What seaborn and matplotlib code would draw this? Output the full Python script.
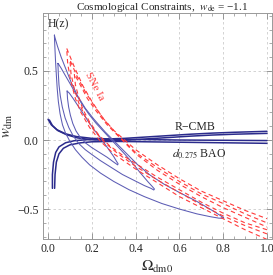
import numpy as np
import pandas as pd
import seaborn as sns
import matplotlib
matplotlib.use("Agg")
import matplotlib.pyplot as plt
from matplotlib.ticker import MultipleLocator

# H(z) contours (closed): (Omega_dm0, w_dm)
hz_outer = [(0.029, 0.76), (0.031, 0.68), (0.034, 0.58), (0.038, 0.47), (0.042, 0.37), (0.047, 0.28),
            (0.055, 0.19), (0.066, 0.11), (0.08, 0.05), (0.1, -0.01), (0.125, -0.07), (0.155, -0.125),
            (0.19, -0.18), (0.24, -0.24), (0.3, -0.3), (0.37, -0.36), (0.44, -0.41), (0.52, -0.46),
            (0.6, -0.5), (0.68, -0.535), (0.74, -0.555), (0.78, -0.566), (0.80, -0.567), (0.802, -0.563),
            (0.79, -0.55), (0.75, -0.51), (0.68, -0.445), (0.6, -0.38), (0.53, -0.32), (0.466, -0.254),
            (0.41, -0.18), (0.36, -0.1), (0.31, -0.02), (0.26, 0.06), (0.21, 0.15), (0.17, 0.23),
            (0.135, 0.32), (0.105, 0.42), (0.08, 0.52), (0.06, 0.6), (0.043, 0.68), (0.032, 0.74),
            (0.029, 0.76)]
hz_middle = [(0.045, 0.555), (0.047, 0.48), (0.05, 0.4), (0.056, 0.32), (0.065, 0.24), (0.078, 0.16),
             (0.095, 0.09), (0.115, 0.03), (0.14, -0.025), (0.17, -0.07), (0.2, -0.105), (0.24, -0.15),
             (0.29, -0.2), (0.34, -0.25), (0.39, -0.29), (0.44, -0.33), (0.47, -0.35), (0.483, -0.362),
             (0.486, -0.355), (0.478, -0.34), (0.455, -0.3), (0.42, -0.235), (0.39, -0.175),
             (0.355, -0.11), (0.32, -0.05), (0.29, 0.0), (0.255, 0.06), (0.22, 0.12), (0.185, 0.19),
             (0.155, 0.26), (0.125, 0.34), (0.1, 0.41), (0.078, 0.47), (0.06, 0.52), (0.048, 0.55),
             (0.045, 0.555)]
hz_inner = [(0.087, 0.355), (0.089, 0.3), (0.094, 0.24), (0.102, 0.18), (0.113, 0.12), (0.128, 0.065),
            (0.147, 0.02), (0.17, -0.02), (0.2, -0.055), (0.235, -0.09), (0.27, -0.125), (0.3, -0.16),
            (0.318, -0.18), (0.32, -0.172), (0.313, -0.155), (0.3, -0.12), (0.28, -0.075),
            (0.26, -0.03), (0.24, 0.015), (0.215, 0.065), (0.19, 0.12), (0.165, 0.18), (0.14, 0.24),
            (0.115, 0.3), (0.097, 0.34), (0.087, 0.355)]

# SNe Ia contours (open towards large Omega)
sne_outer = [(1.0, -0.72), (0.9, -0.65), (0.8, -0.57), (0.7, -0.49), (0.6, -0.41), (0.5, -0.31),
             (0.4, -0.21), (0.3, -0.1), (0.24, -0.01), (0.19, 0.09), (0.15, 0.2), (0.125, 0.3),
             (0.105, 0.42), (0.09, 0.55), (0.085, 0.665), (0.12, 0.53), (0.16, 0.39), (0.2, 0.28),
             (0.25, 0.16), (0.3, 0.07), (0.4, -0.07), (0.5, -0.18), (0.6, -0.28), (0.7, -0.37),
             (0.8, -0.44), (0.9, -0.51), (1.0, -0.57)]
sne_middle = [(1.0, -0.68), (0.9, -0.62), (0.8, -0.55), (0.7, -0.47), (0.6, -0.38), (0.5, -0.29),
              (0.4, -0.19), (0.32, -0.1), (0.26, -0.02), (0.21, 0.07), (0.17, 0.17), (0.14, 0.27),
              (0.12, 0.37), (0.105, 0.48), (0.1, 0.58), (0.13, 0.47), (0.17, 0.35), (0.21, 0.25),
              (0.26, 0.14), (0.31, 0.05), (0.4, -0.09), (0.5, -0.2), (0.6, -0.3), (0.7, -0.39),
              (0.8, -0.46), (0.9, -0.535), (1.0, -0.6)]
sne_inner = [(1.0, -0.65), (0.9, -0.6), (0.8, -0.53), (0.7, -0.45), (0.6, -0.36), (0.5, -0.27),
             (0.4, -0.17), (0.34, -0.11), (0.28, -0.04), (0.23, 0.04), (0.19, 0.13), (0.16, 0.22),
             (0.14, 0.31), (0.125, 0.4), (0.12, 0.48), (0.15, 0.39), (0.18, 0.3), (0.22, 0.21),
             (0.27, 0.11), (0.32, 0.03), (0.4, -0.1), (0.5, -0.22), (0.6, -0.32), (0.7, -0.41),
             (0.8, -0.49), (0.9, -0.56), (1.0, -0.63)]

# R-CMB band
rcmb_1 = [(0.0, 0.15), (0.015, 0.11), (0.04, 0.075), (0.08, 0.045), (0.13, 0.025), (0.2, 0.012),
          (0.28, 0.008), (0.35, 0.012), (0.45, 0.022), (0.55, 0.032), (0.65, 0.042), (0.75, 0.05),
          (0.85, 0.056), (1.0, 0.063)]
rcmb_2 = [(0.006, 0.145), (0.02, 0.105), (0.045, 0.068), (0.085, 0.038), (0.135, 0.015), (0.2, 0.002),
          (0.28, -0.004), (0.35, -0.002), (0.45, 0.008), (0.55, 0.018), (0.65, 0.028), (0.75, 0.036),
          (0.85, 0.042), (1.0, 0.048)]

# d_0.275 BAO band
bao_1 = [(0.02, -0.35), (0.02, -0.25), (0.025, -0.16), (0.035, -0.09), (0.05, -0.05), (0.08, -0.02),
         (0.12, -0.005), (0.2, 0.005), (0.3, 0.006), (0.4, 0.004), (0.5, 0.002), (0.6, 0.0),
         (0.7, -0.001), (0.8, -0.002), (0.9, -0.003), (1.0, -0.004)]
bao_2 = [(0.03, -0.35), (0.032, -0.25), (0.038, -0.16), (0.05, -0.1), (0.07, -0.06), (0.1, -0.035),
         (0.15, -0.02), (0.2, -0.013), (0.3, -0.01), (0.4, -0.012), (0.5, -0.014), (0.6, -0.016),
         (0.7, -0.018), (0.8, -0.02), (0.9, -0.022), (1.0, -0.024)]

sns.set_style("ticks")
plt.rcParams['font.family'] = ['Liberation Serif', 'DejaVu Serif']
plt.rcParams['mathtext.fontset'] = 'stix'

fig = plt.figure(figsize=(2.73, 2.75), dpi=100)
ax = fig.add_axes([43 / 273, 1 - 239 / 275, 229 / 273, 226 / 275])

def draw(pts, color, lw, ls='-'):
    df = pd.DataFrame(pts, columns=['om', 'w'])
    sns.lineplot(data=df, x='om', y='w', sort=False, estimator=None, color=color,
                 lw=lw, ls=ls, ax=ax)

for c in [rcmb_1, rcmb_2, bao_1, bao_2]:
    draw(c, '#2b2b8c', 1.1)
for c in [hz_outer, hz_middle, hz_inner]:
    draw(c, '#5c5cb4', 0.75)
for c in [sne_outer, sne_middle, sne_inner]:
    draw(c, '#ff3a3a', 0.8, (0, (4, 3)))

ax.set_xlim(-0.023, 1.023)
ax.set_ylim(-0.717, 0.92)
ax.xaxis.set_major_locator(MultipleLocator(0.2))
ax.xaxis.set_minor_locator(MultipleLocator(0.05))
ax.yaxis.set_major_locator(MultipleLocator(0.5))
ax.yaxis.set_minor_locator(MultipleLocator(0.1))
ax.xaxis.set_major_formatter(plt.FuncFormatter(lambda v, p: f"{v:.1f}"))
ax.yaxis.set_major_formatter(plt.FuncFormatter(lambda v, p: f"{v:.1f}".replace('-', '\u2212')))
ax.tick_params(which='both', direction='in', top=True, right=True, color='#888888',
               labelsize=8.5, pad=3)
ax.tick_params(which='major', length=4, width=0.6)
ax.tick_params(which='minor', length=2, width=0.5)
for s in ax.spines.values():
    s.set_color('#999999')
    s.set_linewidth(0.7)
ax.grid(True, which='major', ls=(0, (3, 3)), color='#cccccc', lw=0.6)
ax.set_axisbelow(True)

ax.set_xlabel(r'$\Omega_{\rm dm0}$', fontsize=11, labelpad=3)
ax.set_ylabel(r'$w_{\rm dm}$', fontsize=10.5, labelpad=2)
fig.text(162 / 273, 1 - 7 / 275, 'Cosmological Constraints,  $w_{\\rm de}$ = \u22121.1',
         fontsize=8, ha='center', va='center')

ax.text(0.0, 0.84, 'H(z)', fontsize=8.5, ha='left', va='center')
ax.text(0.67, 0.095, 'R\u2212CMB', fontsize=8.5, ha='center', va='center')
ax.text(0.69, -0.1, r'$d_{0.275}$ BAO', fontsize=8.5, ha='center', va='center')
ax.text(0.21, 0.39, 'SNe Ia', fontsize=8, color='#ff3a3a', rotation=-62,
        ha='center', va='center')

fig.savefig('out.png', dpi=100)
